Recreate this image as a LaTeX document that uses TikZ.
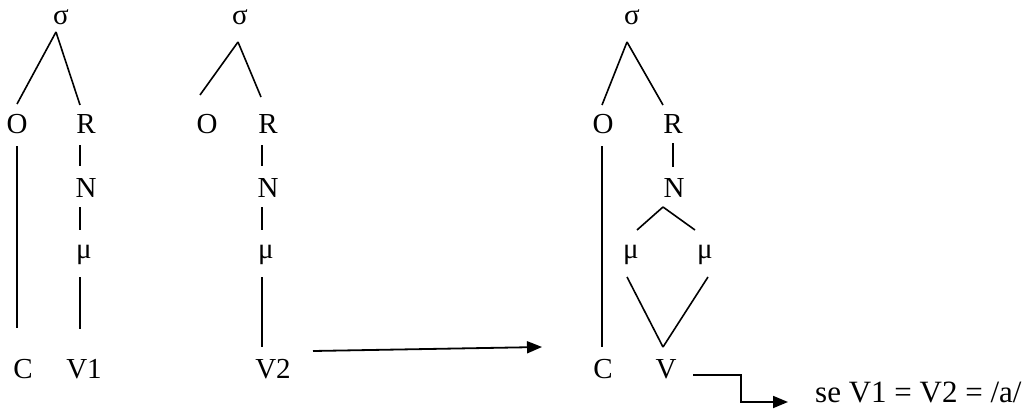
\documentclass[tikz,border=0pt]{standalone}
\usepackage{fontspec}
\setmainfont{Liberation Serif}
\usetikzlibrary{arrows.meta,calc}

\begin{document}
\begin{tikzpicture}[x=1pt,y=-1pt,
    seg/.style={anchor=base,inner sep=0pt,font=\fontsize{29}{34}\selectfont},
    branch/.style={line width=1.6pt},
    stem/.style={line width=2.3pt},
    shift arrow/.style={line width=1.8pt,-{Triangle[length=15pt,width=12pt]}}]
        \useasboundingbox (0,0) rectangle (1030,409);

        % first syllable
        \node[seg] (s1) at (61,25) {σ};
        \node[seg] (o1) at (17,134) {O};
        \node[seg] (r1) at (86,134) {R};
        \node[seg] (n1) at (86,197) {N};
        \node[seg] (m1) at (84,258) {μ};
        \node[seg] (c1) at (23,378) {C};
        \node[seg] (v1) at (84,378) {V1};

        \draw[branch] ([shift={(-5,7)}]s1.base) -- ([shift={(0,-30)}]o1.base);
        \draw[branch] ([shift={(-5,7)}]s1.base) -- ([shift={(-6,-29)}]r1.base);
        \draw[stem] ([shift={(0,12)}]o1.base) -- ([shift={(-6,-50)}]c1.base);
        \draw[stem] ([shift={(-6,11)}]r1.base) -- ([shift={(-6,-31)}]n1.base);
        \draw[stem] ([shift={(-6,10)}]n1.base) -- ([shift={(-4,-28)}]m1.base);
        \draw[stem] ([shift={(-4,19)}]m1.base) -- ([shift={(-4,-49)}]v1.base);

        % second syllable
        \node[seg] (s2) at (240,25) {σ};
        \node[seg] (o2) at (207,134) {O};
        \node[seg] (r2) at (268,134) {R};
        \node[seg] (n2) at (268,197) {N};
        \node[seg] (m2) at (266,258) {μ};
        \node[seg] (v2) at (273,378) {V2};

        \draw[branch] ([shift={(-2,17)}]s2.base) -- ([shift={(-7,-39)}]o2.base);
        \draw[branch] ([shift={(-2,17)}]s2.base) -- ([shift={(-7,-37)}]r2.base);
        \draw[stem] ([shift={(-6,11)}]r2.base) -- ([shift={(-6,-31)}]n2.base);
        \draw[stem] ([shift={(-6,10)}]n2.base) -- ([shift={(-4,-28)}]m2.base);
        \draw[stem] ([shift={(-4,19)}]m2.base) -- ([shift={(-11,-31)}]v2.base);

        % merged syllable
        \node[seg] (s3) at (632,25) {σ};
        \node[seg] (o3) at (603,134) {O};
        \node[seg] (r3) at (673,134) {R};
        \node[seg] (n3) at (674,197) {N};
        \node[seg] (ml) at (631,258) {μ};
        \node[seg] (mr) at (705,258) {μ};
        \node[seg] (c3) at (603,378) {C};
        \node[seg] (v3) at (666,378) {V};

        \draw[branch] ([shift={(-5,17)}]s3.base) -- ([shift={(-1,-29)}]o3.base);
        \draw[branch] ([shift={(-5,17)}]s3.base) -- ([shift={(-10,-29)}]r3.base);
        \draw[stem] ([shift={(-1,12)}]o3.base) -- ([shift={(-1,-31)}]c3.base);
        \draw[stem] ([shift={(0,9)}]r3.base) -- ([shift={(-1,-30)}]n3.base);
        \draw[branch] ([shift={(-11,10)}]n3.base) -- ([shift={(6,-28)}]ml.base);
        \draw[branch] ([shift={(-11,10)}]n3.base) -- ([shift={(-10,-28)}]mr.base);
        \draw[branch] ([shift={(-4,19)}]ml.base) -- ([shift={(-3,-31)}]v3.base);
        \draw[branch] ([shift={(3,19)}]mr.base) -- ([shift={(-3,-31)}]v3.base);

        \node[seg,anchor=base west,font=\fontsize{31}{34}\selectfont]
            (res) at (815,402) {se V1 = V2 = /a/};

        \draw[shift arrow] ([shift={(40,-27)}]v2.base) -- ([shift={(-61,-31)}]c3.base);
        \draw[shift arrow] ([shift={(27,-3)}]v3.base) -| ([shift={(-74,0)}]res.base west)
            -- ([shift={(-27,0)}]res.base west);
    \end{tikzpicture}
\end{document}
